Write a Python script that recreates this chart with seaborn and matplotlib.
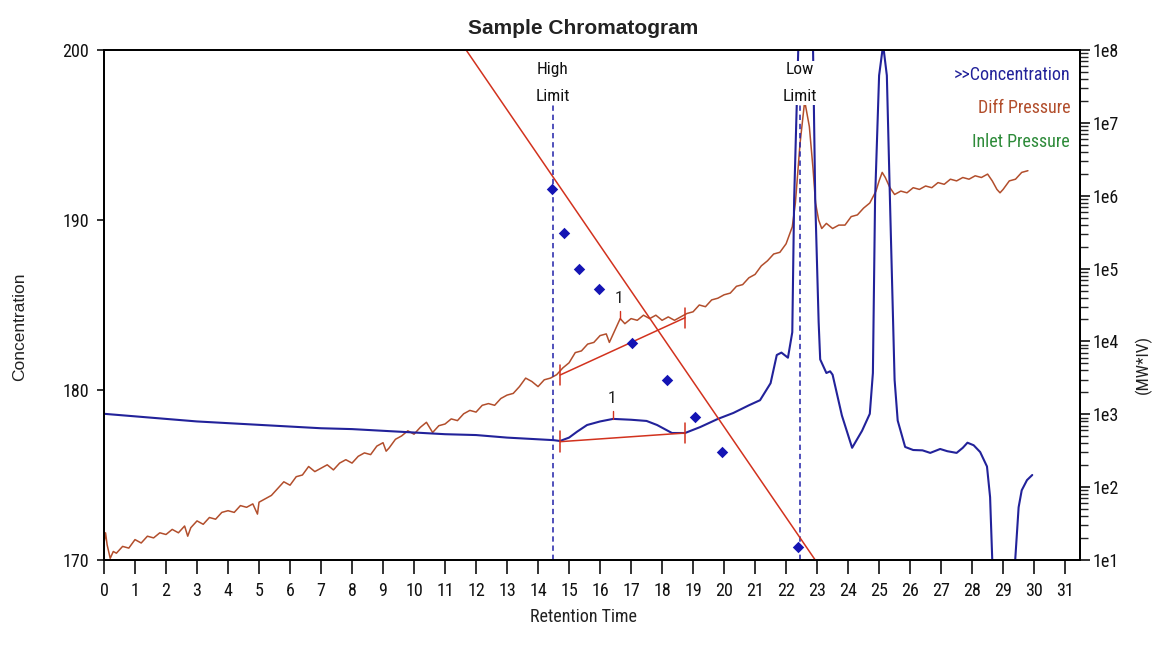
import numpy as np
import pandas as pd
import matplotlib
matplotlib.use("Agg")
import matplotlib.pyplot as plt
from matplotlib import font_manager
from matplotlib.ticker import LogLocator, FuncFormatter, NullFormatter
import seaborn as sns

# ---------------------------------------------------------------- data
# Concentration detector trace (left axis)
conc_time = [0.0, 1.0, 2.0, 3.0, 4.0, 5.0, 6.0, 7.0, 8.0, 9.0, 10.0, 11.0, 12.0,
             13.0, 14.0, 14.5, 14.71, 15.0, 15.26, 15.58, 16.0, 16.42, 17.0, 17.5,
             17.84, 18.32, 18.74, 19.23, 19.8, 20.3, 20.8, 21.16, 21.5, 21.7, 21.85,
             22.06, 22.2, 22.26, 22.4, 22.6, 22.8, 22.87, 22.94, 23.05, 23.1, 23.3,
             23.42, 23.5, 23.8, 24.13, 24.45, 24.7, 24.8, 24.87, 25.0, 25.13, 25.25,
             25.35, 25.5, 25.6, 25.84, 26.1, 26.4, 26.65, 26.97, 27.2, 27.5, 27.7,
             27.85, 28.05, 28.26, 28.48, 28.58, 28.65, 28.8, 29.2, 29.39, 29.5, 29.6,
             29.77, 29.94]
conc_value = [178.6, 178.45, 178.3, 178.15, 178.05, 177.95, 177.85, 177.75, 177.7,
              177.6, 177.5, 177.4, 177.35, 177.2, 177.1, 177.05, 177.0, 177.2, 177.55,
              177.94, 178.15, 178.3, 178.25, 178.18, 177.94, 177.47, 177.47, 177.82,
              178.3, 178.65, 179.1, 179.4, 180.4, 182.06, 182.2, 181.9, 183.4, 191.2,
              200.5, 210.0, 204.0, 200.0, 191.2, 184.0, 181.8, 181.0, 181.1, 180.9,
              178.5, 176.6, 177.6, 178.6, 181.0, 191.2, 198.5, 200.3, 198.5, 191.2,
              180.6, 178.2, 176.65, 176.47, 176.45, 176.3, 176.53, 176.4, 176.3,
              176.6, 176.9, 176.75, 176.35, 175.5, 173.7, 170.0, 165.0, 165.0, 170.0,
              173.1, 174.1, 174.7, 175.0]

# Differential pressure trace (left axis)
diff_time = [0.0, 0.05, 0.1, 0.2, 0.3, 0.4, 0.6, 0.8, 1.0, 1.2, 1.4, 1.6, 1.8, 2.0,
             2.2, 2.4, 2.6, 2.7, 2.8, 3.0, 3.2, 3.4, 3.6, 3.8, 4.0, 4.2, 4.4, 4.6,
             4.8, 4.95, 5.0, 5.2, 5.4, 5.6, 5.8, 6.0, 6.2, 6.4, 6.6, 6.8, 7.0, 7.2,
             7.4, 7.6, 7.8, 8.0, 8.2, 8.4, 8.6, 8.8, 9.0, 9.1, 9.2, 9.4, 9.6, 9.8,
             10.0, 10.2, 10.4, 10.6, 10.8, 11.0, 11.2, 11.4, 11.6, 11.8, 12.0, 12.2,
             12.4, 12.6, 12.8, 13.0, 13.2, 13.4, 13.6, 13.8, 14.0, 14.2, 14.4, 14.6,
             14.8, 15.0, 15.2, 15.4, 15.6, 15.8, 16.0, 16.2, 16.3, 16.5, 16.65, 16.8,
             17.0, 17.2, 17.4, 17.6, 17.8, 18.0, 18.2, 18.4, 18.6, 18.8, 19.0, 19.2,
             19.4, 19.6, 19.8, 20.0, 20.2, 20.4, 20.6, 20.8, 21.0, 21.2, 21.4, 21.6,
             21.8, 22.0, 22.2, 22.3, 22.45, 22.6, 22.75, 22.87, 22.95, 23.05, 23.15,
             23.3, 23.5, 23.7, 23.9, 24.1, 24.3, 24.5, 24.7, 24.9, 25.0, 25.1, 25.2,
             25.35, 25.5, 25.7, 25.9, 26.1, 26.3, 26.5, 26.7, 26.9, 27.1, 27.3, 27.5,
             27.7, 27.9, 28.1, 28.3, 28.5, 28.65, 28.8, 28.9, 29.0, 29.2, 29.4, 29.6,
             29.8]
diff_value = [171.0, 171.6, 170.9, 170.1, 170.5, 170.4, 170.8, 170.7, 171.2, 171.0,
              171.4, 171.3, 171.6, 171.5, 171.8, 171.6, 172.0, 171.4, 171.9, 172.3,
              172.1, 172.5, 172.4, 172.8, 172.9, 172.8, 173.2, 173.1, 173.3, 172.7,
              173.4, 173.6, 173.8, 174.2, 174.6, 174.4, 174.9, 175.0, 175.5, 175.2,
              175.4, 175.6, 175.3, 175.7, 175.9, 175.7, 176.1, 176.3, 176.2, 176.7,
              176.9, 176.4, 176.6, 177.1, 177.3, 177.6, 177.4, 177.8, 178.1, 177.5,
              177.9, 178.0, 178.3, 178.2, 178.6, 178.8, 178.7, 179.1, 179.2, 179.1,
              179.5, 179.7, 179.8, 180.2, 180.7, 180.5, 180.2, 180.6, 180.7, 180.9,
              181.3, 181.6, 182.2, 182.3, 182.7, 182.8, 183.2, 183.3, 182.8, 183.6,
              184.2, 183.9, 184.2, 184.1, 184.4, 184.2, 184.4, 184.1, 184.3, 184.1,
              184.3, 184.5, 184.6, 185.0, 184.9, 185.3, 185.4, 185.6, 185.7, 186.1,
              186.2, 186.6, 186.8, 187.3, 187.6, 188.0, 188.1, 188.6, 189.6, 191.0,
              194.5, 197.0, 195.5, 193.0, 191.0, 190.0, 189.5, 189.8, 189.5, 189.7,
              189.7, 190.2, 190.3, 190.7, 191.0, 191.7, 192.3, 192.8, 192.5, 191.9,
              191.5, 191.7, 191.6, 191.9, 191.8, 192.0, 191.9, 192.2, 192.1, 192.4,
              192.3, 192.5, 192.4, 192.6, 192.5, 192.7, 192.3, 191.8, 191.6, 191.8,
              192.3, 192.4, 192.8, 192.9]

# Calibration fit (right axis, molecular weight) and standards
calib_time = [11.68, 22.94]
calib_mw = [1e8, 1e1]
std_time = [14.45, 14.85, 15.32, 15.97, 17.03, 18.16, 19.06, 19.94, 22.39]
std_mw = [1.24e6, 3.08e5, 9.9e4, 5.2e4, 9.5e3, 2.95e3, 919, 303, 15]

# Integration limits
limit_names = ["High\n\nLimit", "Low\n\nLimit"]
limit_time = [14.48, 22.45]

# Peak 1 integration on each trace: start, end, apex
peak_start = 14.71
peak_end = 18.74
diff_base = [180.88, 184.25]
diff_apex = (16.65, 184.2)
conc_base = [176.96, 177.47]
conc_apex = (16.42, 178.3)

legend_labels = [">>Concentration", "Diff Pressure", "Inlet Pressure"]
x_ticks = list(range(0, 32))
left_ticks = [170, 180, 190, 200]

# ---------------------------------------------------------------- style
sns.set_style("white")

# prefer a narrow sans face for the tick and legend text
narrow_family, narrow_stretch = "Liberation Sans", "normal"
for f in font_manager.fontManager.ttflist:
    st = str(f.stretch).lower()
    if f.style == "normal" and ("narrow" in f.name.lower() or "condensed" in f.name.lower()
                                or "condensed" in st):
        narrow_family, narrow_stretch = f.name, f.stretch
        if "Liberation" in f.name or "Roboto" in f.name:
            break
plt.rcParams["font.family"] = [narrow_family, "DejaVu Sans"]
plt.rcParams["font.stretch"] = narrow_stretch

NAVY = "#22229a"
BROWN = "#b24e2c"
RED = "#d2321e"
DIAMOND = "#1414b4"
GREEN = "#2e8b3a"

fig = plt.figure(figsize=(11.52, 6.5), dpi=100)
fig.patch.set_facecolor("white")
ax = fig.add_axes([104 / 1152, 90 / 650, 976 / 1152, 510 / 650])
ax2 = ax.twinx()

# ---------------------------------------------------------------- traces
diff_df = pd.DataFrame({"t": diff_time, "v": diff_value})
conc_df = pd.DataFrame({"t": conc_time, "v": conc_value})
sns.lineplot(data=diff_df, x="t", y="v", ax=ax, color=BROWN, lw=1.1,
             sort=False, estimator=None)
sns.lineplot(data=conc_df, x="t", y="v", ax=ax, color=NAVY, lw=1.5,
             sort=False, estimator=None)

# integration baselines with end markers and apex ticks
for base, apex in ((diff_base, diff_apex), (conc_base, conc_apex)):
    ax.plot([peak_start, peak_end], base, color=RED, lw=1.1)
    for t, v in zip([peak_start, peak_end], base):
        ax.plot([t, t], [v - 0.6, v + 0.6], color=RED, lw=1.1)
    ax.plot([apex[0], apex[0]], [apex[1], apex[1] + 0.45], color=RED, lw=1.0)
    ax.text(apex[0] - 0.05, apex[1] + 1.2, "1", ha="center", va="center",
            fontsize=12.5, color="#222222")

# integration limits
for name, t in zip(limit_names, limit_time):
    ax.axvline(t, ymin=0, ymax=0.895, color="#2020a8", lw=1.1,
               ls=(0, (3.5, 2.5)))

ax.set_xlim(0, 31.48)
ax.set_ylim(170, 200)

# ---------------------------------------------------------------- right axis
ax2.set_yscale("log")
ax2.set_ylim(1e1, 1e8)
sns.lineplot(x=calib_time, y=calib_mw, ax=ax2, color=RED, lw=1.1)
sns.scatterplot(x=std_time, y=std_mw, ax=ax2, color=DIAMOND, marker="D",
                s=34, linewidth=0, zorder=5)

for name, t in zip(limit_names, limit_time):
    ax2.text(t, 10 ** (1 + 7 * 0.935), name, ha="center", va="center",
             fontsize=12.5, linespacing=0.88, color="#111111", zorder=6,
             bbox=dict(boxstyle="square,pad=0.05", fc="white", ec="none"))

# ---------------------------------------------------------------- axes styling
for a in (ax, ax2):
    for s in a.spines.values():
        s.set_color("black")
        s.set_linewidth(1.3)

ax.set_xticks(x_ticks)
ax.set_xticklabels([str(v) for v in x_ticks])
ax.set_yticks(left_ticks)
ax.tick_params(axis="x", direction="out", length=10, width=1.2, pad=6,
               labelsize=13, colors="#111111")
ax.tick_params(axis="y", direction="out", length=5, width=1.2, pad=6,
               labelsize=13, colors="#111111")
ax.tick_params(bottom=True, left=True)

ax2.yaxis.set_major_locator(LogLocator(base=10, numticks=12))
ax2.yaxis.set_minor_locator(LogLocator(base=10, subs=np.arange(2, 10), numticks=12))
ax2.yaxis.set_major_formatter(FuncFormatter(lambda v, _: f"1e{int(round(np.log10(v)))}"))
ax2.yaxis.set_minor_formatter(NullFormatter())
ax2.tick_params(axis="y", which="major", direction="out", length=7, width=1.2,
                pad=2, labelsize=13, colors="#111111")
ax2.tick_params(axis="y", which="minor", direction="out", length=6, width=1.0)
ax.set_xlabel("")
ax.set_ylabel("")
ax2.set_ylabel("")

# legend entries as coloured text
for lbl, c, yy in zip(legend_labels, [NAVY, BROWN, GREEN], [0.951, 0.886, 0.82]):
    ax.text(0.99, yy, lbl, transform=ax.transAxes, ha="right", va="center",
            fontsize=13, color=c)

# titles and axis names
fig.text(583 / 1152, 1 - 28 / 650, "Sample Chromatogram", ha="center", va="center",
         fontsize=15, fontweight="bold", family=["Liberation Sans", "DejaVu Sans"],
         fontstretch="normal", color="#222222")
fig.text(583 / 1152, 1 - 617 / 650, "Retention Time", ha="center", va="center",
         fontsize=13, color="#222222")
fig.text(20 / 1152, 1 - 327 / 650, "Concentration", ha="center", va="center",
         rotation=90, fontsize=12.5, family=["Liberation Sans", "DejaVu Sans"],
         fontstretch="normal", color="#222222")
fig.text(1143 / 1152, 1 - 364 / 650, "(MW*IV)", ha="center", va="center",
         rotation=90, fontsize=12.5, color="#222222")

fig.savefig("out.png", dpi=100, facecolor="white")
